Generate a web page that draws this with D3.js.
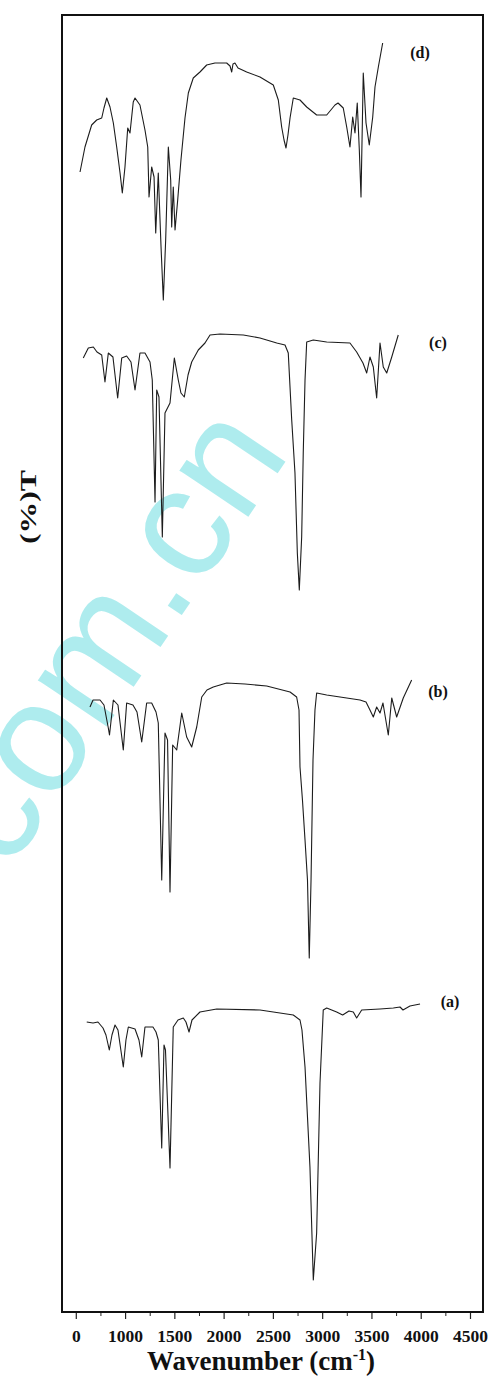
<!DOCTYPE html>
<html>
<head>
<meta charset="utf-8">
<script src="https://cdn.jsdelivr.net/npm/d3@7"></script>
<style>
  html, body { margin: 0; padding: 0; background: #fff; }
  svg { display: block; }
</style>
</head>
<body>
<div id="chart"></div>
<script>
// ---------- data (wavenumber cm-1, offset transmittance) ----------
const xTickValues = [500, 1000, 1500, 2000, 2500, 3000, 3500, 4000, 4500];
const xTickLabels = ["0", "1000", "1500", "2000", "2500", "3000", "3500", "4000", "4500"];
const xMinorTicks = [750, 1250, 1750, 2250, 2750, 3250, 3750, 4250];

const seriesNames = ["(a)", "(b)", "(c)", "(d)"];

const spectrumA = [
  [611,29.0],[675,28.9],[725,29.0],[776,28.4],[806,27.7],[840,26.2],[867,27.7],[898,28.7],
  [928,28.2],[982,24.5],[1009,27.2],[1033,28.5],[1101,28.3],[1141,27.2],[1169,25.5],[1202,28.5],
  [1283,28.5],[1314,28.0],[1337,27.2],[1372,16.4],[1395,26.7],[1410,26.2],[1456,14.4],[1489,28.5],
  [1537,29.2],[1591,29.4],[1618,29.0],[1649,28.0],[1679,29.2],[1760,30.0],[1930,30.3],[2369,30.2],
  [2707,29.7],[2775,29.2],[2795,28.2],[2826,24.5],[2876,14.5],[2910,3.2],[2944,7.9],[2978,22.9],
  [3011,30.2],[3046,30.4],[3147,30.0],[3208,29.7],[3272,30.1],[3316,30.0],[3350,29.4],[3401,30.2],
  [3587,30.3],[3722,30.4],[3790,30.5],[3820,30.2],[3891,30.6],[3993,30.8]
];

const spectrumB = [
  [644,60.5],[675,61.2],[746,61.2],[786,60.7],[830,58.4],[842,57.7],[881,61.2],[928,60.7],
  [982,56.2],[1016,60.9],[1080,60.7],[1121,60.0],[1169,57.0],[1219,60.9],[1270,60.9],[1314,60.0],
  [1337,58.9],[1372,43.2],[1405,57.9],[1431,57.2],[1456,42.0],[1483,56.7],[1524,56.2],[1575,59.9],
  [1625,57.5],[1676,56.5],[1727,58.5],[1778,61.5],[1831,62.2],[1895,62.5],[2031,62.9],[2217,62.8],
  [2437,62.6],[2674,62.0],[2741,61.5],[2765,60.2],[2775,54.5],[2800,51.2],[2826,47.2],[2851,43.2],
  [2869,35.4],[2887,43.2],[2907,55.2],[2927,60.2],[2944,61.9],[3046,61.7],[3384,61.2],[3445,61.0],
  [3485,60.2],[3519,59.5],[3553,60.5],[3587,59.9],[3617,60.9],[3671,57.7],[3706,61.4],[3756,59.5],
  [3823,61.4],[3908,63.2]
];

const spectrumC = [
  [576,95.4],[627,96.4],[678,96.5],[715,96.0],[763,95.7],[796,93.0],[830,95.9],[877,95.5],
  [925,91.4],[966,95.4],[1016,95.6],[1060,95.0],[1101,92.2],[1151,95.9],[1202,95.9],[1253,95.0],
  [1276,93.2],[1304,81.0],[1321,92.2],[1344,91.5],[1378,77.5],[1405,89.9],[1456,90.9],[1500,95.4],
  [1540,93.2],[1567,91.9],[1601,91.5],[1639,93.7],[1676,95.0],[1743,96.2],[1811,96.9],[1862,97.7],
  [1963,97.8],[2200,97.7],[2369,97.4],[2539,96.9],[2623,96.7],[2656,95.9],[2691,89.2],[2724,83.9],
  [2748,75.9],[2768,72.2],[2792,77.5],[2808,85.9],[2826,93.2],[2843,97.0],[2910,97.2],[3046,97.0],
  [3282,96.9],[3350,96.0],[3414,94.9],[3452,93.9],[3485,95.5],[3519,94.5],[3553,91.4],[3587,96.9],
  [3620,94.5],[3655,93.9],[3706,95.5],[3772,97.7]
];

const spectrumD = [
  [543,114.0],[593,116.5],[661,118.7],[712,119.2],[763,119.4],[786,120.4],[814,121.4],[847,120.5],
  [881,118.9],[915,116.5],[949,113.9],[972,111.9],[999,114.5],[1027,118.4],[1050,117.9],[1083,121.0],
  [1101,121.4],[1151,120.7],[1202,118.2],[1230,116.5],[1243,111.5],[1270,114.5],[1294,113.5],[1311,107.9],
  [1337,113.9],[1365,106.5],[1388,101.2],[1412,107.2],[1439,116.5],[1463,113.2],[1473,108.5],[1489,112.5],
  [1507,108.2],[1534,111.2],[1567,115.2],[1608,119.4],[1642,121.9],[1692,123.4],[1760,124.0],[1828,124.7],
  [1912,124.9],[2031,124.9],[2065,124.6],[2082,124.0],[2095,124.8],[2115,124.9],[2146,124.4],[2234,124.0],
  [2369,123.5],[2504,122.7],[2555,121.2],[2589,118.5],[2613,117.2],[2633,116.4],[2653,117.7],[2674,119.4],
  [2707,121.4],[2775,121.2],[2843,120.5],[2944,119.7],[3046,119.7],[3130,120.7],[3161,120.9],[3214,120.4],
  [3249,118.5],[3282,116.5],[3310,119.5],[3333,117.9],[3356,120.9],[3377,116.2],[3394,111.5],[3417,123.9],
  [3445,118.9],[3478,116.7],[3513,119.5],[3536,122.5],[3570,124.5],[3614,126.9]
];

const allSpectra = [spectrumA, spectrumB, spectrumC, spectrumD];
// label anchors (wavenumber, offset transmittance)
const labelAnchorX = [4297, 4175, 4175, 3993];
const labelAnchorY = [30.5, 61.5, 96.4, 125.4];

// ---------- layout ----------
const W = 492, H = 1377;
const frame = { left: 62, right: 483, top: 15, bottom: 1312 };
const serif = "'Liberation Serif', 'Times New Roman', Times, serif";

const svg = d3.select("#chart").append("svg")
  .attr("width", W).attr("height", H)
  .attr("viewBox", `0 0 ${W} ${H}`);

const x = d3.scaleLinear().domain([360, 4632]).range([frame.left, frame.right]);
const y = d3.scaleLinear().domain([0, 129.7]).range([frame.bottom, frame.top]);

// watermark (under the plot)
svg.append("text")
  .attr("transform", "translate(8,873) rotate(-56)")
  .attr("font-family", "'Liberation Sans', Arial, sans-serif")
  .attr("font-size", 157)
  .attr("fill", "#aeecee")
  .text("com.cn");

// spectra
const line = d3.line().x(d => x(d[0])).y(d => y(d[1]));
svg.append("g").selectAll("path")
  .data(allSpectra)
  .join("path")
  .attr("d", line)
  .attr("fill", "none")
  .attr("stroke", "#1c1c1c")
  .attr("stroke-width", 1.1)
  .attr("stroke-linejoin", "round");

// series labels
svg.append("g").selectAll("text")
  .data(seriesNames)
  .join("text")
  .attr("x", (d, i) => x(labelAnchorX[i]))
  .attr("y", (d, i) => y(labelAnchorY[i]))
  .attr("text-anchor", "middle")
  .attr("font-family", serif)
  .attr("font-weight", "bold")
  .attr("font-size", 16)
  .attr("fill", "#111")
  .text(d => d);

// frame
svg.append("rect")
  .attr("x", frame.left).attr("y", frame.top)
  .attr("width", frame.right - frame.left)
  .attr("height", frame.bottom - frame.top)
  .attr("fill", "none")
  .attr("stroke", "#111")
  .attr("stroke-width", 2);

// x axis (major)
const xAxis = d3.axisBottom(x)
  .tickValues(xTickValues)
  .tickFormat((d, i) => xTickLabels[i])
  .tickSize(6)
  .tickPadding(11);
const gx = svg.append("g")
  .attr("transform", `translate(0,${frame.bottom + 1})`)
  .call(xAxis);
gx.select(".domain").remove();
gx.selectAll(".tick line").attr("stroke", "#222").attr("stroke-width", 1.2);
gx.selectAll(".tick text")
  .attr("font-family", serif)
  .attr("font-weight", "bold")
  .attr("font-size", 17.5)
  .attr("fill", "#111");

// x axis (minor)
const gxm = svg.append("g")
  .attr("transform", `translate(0,${frame.bottom + 1})`)
  .call(d3.axisBottom(x).tickValues(xMinorTicks).tickSize(3).tickFormat(""));
gxm.select(".domain").remove();
gxm.selectAll(".tick line").attr("stroke", "#222").attr("stroke-width", 1);

// axis titles
const xt = svg.append("text")
  .attr("x", 261).attr("y", 1370)
  .attr("text-anchor", "middle")
  .attr("font-family", serif)
  .attr("font-weight", "bold")
  .attr("font-size", 27)
  .attr("fill", "#111");
xt.append("tspan").text("Wavenumber (cm");
xt.append("tspan").attr("font-size", 16).attr("dy", -10).text("-1");
xt.append("tspan").attr("dy", 10).text(")");

svg.append("text")
  .attr("transform", "translate(36,507) rotate(-90)")
  .attr("text-anchor", "middle")
  .attr("font-family", serif)
  .attr("font-weight", "bold")
  .attr("font-size", 23)
  .attr("textLength", 74)
  .attr("lengthAdjust", "spacingAndGlyphs")
  .attr("fill", "#111")
  .text("(%)T");
</script>
</body>
</html>
